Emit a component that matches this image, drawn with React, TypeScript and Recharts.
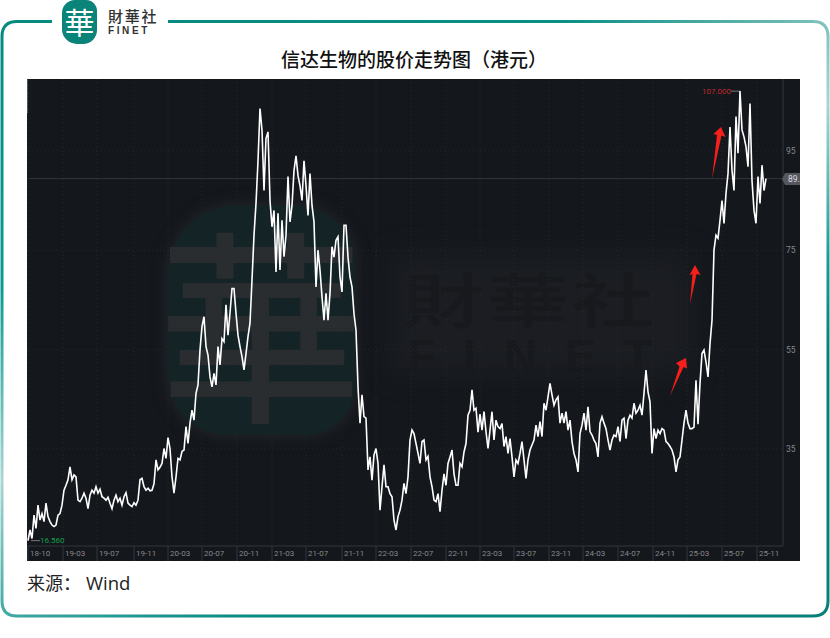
import React from 'react';
import { LineChart, Line, XAxis, YAxis, CartesianGrid, ReferenceLine } from 'recharts';

const TITLE = '信达生物的股价走势图（港元）';
const tickWeeks = [0, 17.5, 34.5, 53, 70, 87, 104.5, 122, 139, 157, 174, 191.5, 209, 226, 243, 260.5, 277.5, 295, 312.5, 329.5, 347, 364.5];
const tickLabels = ['18-10', '19-03', '19-07', '19-11', '20-03', '20-07', '20-11', '21-03', '21-07', '21-11', '22-03', '22-07', '22-11', '23-03', '23-07', '23-11', '24-03', '24-07', '24-11', '25-03', '25-07', '25-11'];
const priceTicks = [35, 55, 75, 95];

const close2018 = [16.56, 18.7, 17.0, 21.7, 19.0, 23.7, 20.7, 22.0, 20.4, 24.1, 21.4, 20.4, 19.7, 19.4, 19.7, 21.7, 22.0, 23.7, 26.7, 27.7, 28.8, 31.4, 28.8, 29.8, 29.4, 24.7, 24.4, 25.1, 26.1, 25.1, 23.0, 25.7, 26.7, 26.1, 27.4, 26.1, 26.9, 25.4, 25.1, 24.7, 25.3, 24.1, 23.0, 24.7, 25.7, 24.4, 25.1, 23.7, 25.4, 26.2, 24.1, 23.7, 23.4, 24.2, 23.7, 24.7, 28.8, 29.1, 27.4, 26.7, 27.1, 26.6, 26.7, 28.0, 32.8, 30.8, 31.3, 32.1, 35.1, 33.1, 37.3, 35.1, 29.4, 26.1, 29.4, 33.1, 32.8, 34.5, 34.8, 39.5, 36.1, 40.2, 42.8, 40.8, 46.2];
const close2020 = [47.9, 54.9, 59.6, 61.6, 55.6, 53.9, 49.5, 47.5, 50.2, 47.9, 55.6, 51.9, 57.2, 56.6, 64.0, 57.9, 62.3, 67.3, 67.3, 62.3, 57.9, 55.6, 53.6, 50.9, 54.2, 57.6, 60.3, 69.0];
const close2021 = [78, 84.4, 93, 103.5, 99.1, 87, 97.5, 98.8, 85, 79.7, 83, 70.6, 82.4, 71, 81, 73.7, 78, 89.8, 80.7, 84, 91, 94, 90, 88, 85, 93, 88, 82, 90.4, 84, 80.7, 67.6, 75, 71, 65.6, 60.9, 66.3, 60.9, 66.3, 75.7, 73.6, 77, 77.7, 69.6, 66.6, 80, 80, 73.6, 69.6, 67.6, 62.2, 58.9];
const close2022 = [47.5, 40.2, 45.9, 41.5, 41.2, 30.8, 33.4, 28.7, 33.8, 35.1, 32.1, 22.7, 27.4, 31.8, 27.4, 27.4, 26, 25.4, 20.7, 18.7, 21.4, 22.7, 24.7, 28.1, 26, 29.4, 36.8, 38.8, 38.1, 36.1, 34.1, 32.1, 36.5, 36.8, 32.8, 33.5, 29.4, 27.4, 24.7, 24.4, 26, 22.4, 26.7, 30, 27.7, 32.1, 33.4, 34.8, 30, 27.7, 27.7, 32.1, 31.4, 34.4, 36.1, 41.8, 42.8, 46.9, 42.8, 43.2, 38.4, 42, 38.8, 42.5, 38.5, 35.1, 38.8, 42.5, 36.8, 40.8, 39.5, 39.1, 40.1, 35.5, 37.5, 34.1];
const close2023 = [37.1, 33.4, 29.4, 32.8, 32.1, 34.1, 36.5, 32.8, 29.1, 32.8, 34.8, 35.8, 36.8, 39.8, 37.5, 40.5, 37.5, 44.2, 42.8, 45.5, 48.2, 45.9, 43.8, 44.9, 45.5, 40.2, 42.2, 40.2, 42.5, 38.8, 40.8, 36.5, 34.1, 32.8, 30.4, 38.1, 39.8, 42.2, 38.8, 43.5, 38.5, 37.8, 36.8, 36.1, 33.4, 40.2, 41.5, 40.2, 39.1, 36.8, 34.8, 36.8, 37.8, 37.5, 39.5, 36.5, 40.8, 41.2, 37.1, 40.8, 41.8, 41.2, 44.2, 42.2, 42.8, 43.8, 41.8, 46.2, 50.9, 46.5, 44.5, 34.1, 39.1, 37.1, 38.8, 38.1, 39.1, 38.8, 36.5, 36.1, 35.5, 34.8, 33.4, 30.4, 32.8, 33.4, 36.8, 40.2, 42.8, 40.2, 39.1];
const close2025 = [39.1, 39.4, 48.8, 40, 48.2, 54.2, 54.9, 52.5, 49.5, 56.2, 60.9, 75, 78, 77.4, 81, 85, 80.4, 86.4, 90.4];
const closeLate = [99.8, 91.1, 87, 101.9, 94.5, 107, 99.2, 97.8, 95.8, 91.8, 104.5, 89, 83, 80.4, 89.8, 84.4, 92.1, 87, 89.4];

const closes = [...close2018, ...close2020, ...close2021, ...close2022, ...close2023, ...close2025, ...closeLate];
const rows = closes.map((close, week) => ({ week, close }));

const LOW = 16.56;
const HIGH = 107;
const LAST = 89.4;
const lowWeek = closes.indexOf(LOW);
const highWeek = closes.indexOf(HIGH);

const abs = (left: number, top: number, extra: React.CSSProperties = {}): React.CSSProperties => ({
  position: 'absolute', left, top, whiteSpace: 'nowrap', ...extra,
});
const CJK = '"Noto Sans CJK SC", "Noto Sans", sans-serif';

function XTick(props: any) {
  const { x, y, payload } = props;
  const label = tickLabels[tickWeeks.indexOf(payload.value)];
  return (
    <g>
      <line x1={x} x2={x} y1={y - 8} y2={y + 7} stroke="#33363c" strokeWidth={1} />
      <text x={x + 2} y={y + 2} fontSize={8} fill="#85878b" fontFamily="Roboto, sans-serif">{label}</text>
    </g>
  );
}

function Arrow({ points }: { points: string }) {
  return <polygon points={points} fill="#f5201c" />;
}

export default function App() {
  return (
    <div style={{ position: 'absolute', left: 0, top: 0, width: 830, height: 638, background: '#fff', overflow: 'hidden' }}>
      <svg width={830} height={638} style={abs(0, 0)}>
        <defs>
          <linearGradient id="edgeLeft" gradientUnits="userSpaceOnUse" x1="0" y1="21" x2="0" y2="616">
            <stop offset="0" stopColor="#078a80" />
            <stop offset="0.45" stopColor="#0a9a90" />
            <stop offset="0.77" stopColor="#a9d6d3" />
            <stop offset="1" stopColor="#3fa8a2" />
          </linearGradient>
          <linearGradient id="edgeRight" gradientUnits="userSpaceOnUse" x1="0" y1="21" x2="0" y2="616">
            <stop offset="0" stopColor="#7fc0bb" />
            <stop offset="0.14" stopColor="#a9d6d3" />
            <stop offset="0.39" stopColor="#1a9f95" />
            <stop offset="0.55" stopColor="#078078" />
            <stop offset="1" stopColor="#078078" />
          </linearGradient>
          <linearGradient id="edgeTop" gradientUnits="userSpaceOnUse" x1="168" y1="0" x2="828" y2="0">
            <stop offset="0" stopColor="#078a80" />
            <stop offset="0.6" stopColor="#0a8f86" />
            <stop offset="1" stopColor="#7fc0bb" />
          </linearGradient>
          <linearGradient id="edgeBottom" gradientUnits="userSpaceOnUse" x1="2" y1="0" x2="828" y2="0">
            <stop offset="0" stopColor="#3fa8a2" />
            <stop offset="0.3" stopColor="#078a80" />
            <stop offset="1" stopColor="#078078" />
          </linearGradient>
        </defs>
        <path d="M52 21.5 H17 Q2 21.5 2 36.5 V601 Q2 616 17 616" fill="none" stroke="url(#edgeLeft)" strokeWidth={3} />
        <path d="M168 21.5 H813" fill="none" stroke="url(#edgeTop)" strokeWidth={3} />
        <path d="M813 21.5 Q828 21.5 828 36.5 V601 Q828 616 813 616" fill="none" stroke="url(#edgeRight)" strokeWidth={3} />
        <path d="M17 616 H813" fill="none" stroke="url(#edgeBottom)" strokeWidth={3} />
      </svg>

      <div style={abs(62, 0, { width: 35, height: 44, background: '#0a8378', borderRadius: '13px 11px 14px 15px' })} />
      <div style={abs(62, 0, { width: 35, height: 44, lineHeight: '42px', textAlign: 'center', color: '#fff', fontSize: 30, fontFamily: CJK, fontWeight: 400 })}>華</div>
      <div style={abs(108, 8, { fontFamily: CJK, fontSize: 15, lineHeight: '16px', letterSpacing: 1.7, color: '#333', fontWeight: 500 })}>財華社</div>
      <div style={abs(108, 25.5, { fontFamily: '"Liberation Sans", sans-serif', fontSize: 10, lineHeight: '9px', color: '#333', fontWeight: 700, letterSpacing: 2.6 })}>FINET</div>

      <div style={abs(281, 47, { fontFamily: CJK, fontSize: 19, lineHeight: '24px', color: '#111', fontWeight: 500 })}>{TITLE}</div>

      <div style={abs(27, 79, { width: 773, height: 482, background: '#14171c', overflow: 'hidden' })}>
        <div style={abs(0, 0, { width: 1, height: 34, background: '#55585c' })} />
        <div style={abs(141, 126, { width: 187, height: 230, background: '#132326', borderRadius: '70px 60px 50px 60px', boxShadow: '0 0 16px #25282b' })} />
        <div style={abs(129, 120, { width: 210, height: 240, lineHeight: '235px', textAlign: 'center', fontFamily: CJK, fontSize: 205, fontWeight: 400, color: '#2a2d30', WebkitTextStroke: '2px #2a2d30' })}>華</div>
        <div style={abs(365, 175, { width: 300, height: 120, background: '#202226', filter: 'blur(14px)', opacity: 0.6 })} />
        <div style={abs(375, 184, { fontFamily: CJK, fontSize: 82, lineHeight: '70px', letterSpacing: 3, fontWeight: 500, color: '#17191d', transform: 'scaleY(0.72)', transformOrigin: 'center' })}>財華社</div>
        <div style={abs(380, 254, { fontFamily: '"Liberation Sans", sans-serif', fontSize: 46, lineHeight: '46px', letterSpacing: 28, fontWeight: 700, color: '#17191d' })}>FINET</div>

        <div style={abs(0, 0)}>
          <LineChart width={773} height={482} data={rows} margin={{ top: 0, right: 0, bottom: 0, left: 1 }}>
            <CartesianGrid stroke="#25282d" strokeDasharray="1 3" horizontalValues={priceTicks} verticalValues={tickWeeks} />
            <XAxis
              dataKey="week"
              type="number"
              domain={[0, 377.5]}
              ticks={tickWeeks}
              interval={0}
              height={15}
              tick={<XTick />}
              tickLine={false}
              axisLine={{ stroke: '#33363c' }}
            />
            <YAxis
              orientation="right"
              type="number"
              domain={[15.48, 109.44]}
              ticks={priceTicks}
              interval={0}
              width={17}
              tick={{ fontSize: 8.5, fill: '#85878b', textAnchor: 'start', dx: -5, fontFamily: 'Roboto, sans-serif' }}
              tickLine={false}
              axisLine={{ stroke: '#33363c' }}
            />
            <ReferenceLine y={LAST} stroke="#33363a" strokeWidth={1} />
            <ReferenceLine
              segment={[{ x: highWeek - 4.5, y: HIGH }, { x: highWeek, y: HIGH }]}
              stroke="#77797d"
              label={{ value: '107.000', position: 'left', offset: 0, fontSize: 8, fill: '#c0282e', fontFamily: 'Roboto, sans-serif' }}
            />
            <ReferenceLine
              segment={[{ x: lowWeek + 1.5, y: LOW }, { x: lowWeek + 6, y: LOW }]}
              stroke="#77797d"
              label={{ value: '16.560', position: 'right', offset: 0, fontSize: 8, fill: '#15a04a', fontFamily: 'Roboto, sans-serif' }}
            />
            <Line dataKey="close" type="linear" stroke="#ffffff" strokeWidth={1.6} dot={false} isAnimationActive={false} />
          </LineChart>
        </div>

        <svg width={773} height={482} style={abs(0, 0, { pointerEvents: 'none' })}>
          <Arrow points="643,317 652.5,287.5 649,284 659,279 660,289.5 656.5,288" />
          <Arrow points="663,225 665.5,195 662.5,196 668,186 673.5,196 669.5,195" />
          <Arrow points="685,100 690,56 686.5,55 694,48 698.5,58 694.5,56.5" />
          <path d="M755 100 L758 94 H773 V106 H758 Z" fill="#55565e" />
          <text x={761} y={103} fontSize={8.5} fill="#dcdce0" fontFamily="Roboto, sans-serif">89.4</text>
        </svg>
      </div>

      <div style={abs(27, 570, { fontFamily: CJK, fontSize: 18, lineHeight: '24px', color: '#222' })}>
        来源：<span style={{ marginLeft: 5, fontFamily: '"Open Sans", sans-serif', fontSize: 18.5 }}>Wind</span>
      </div>
    </div>
  );
}
